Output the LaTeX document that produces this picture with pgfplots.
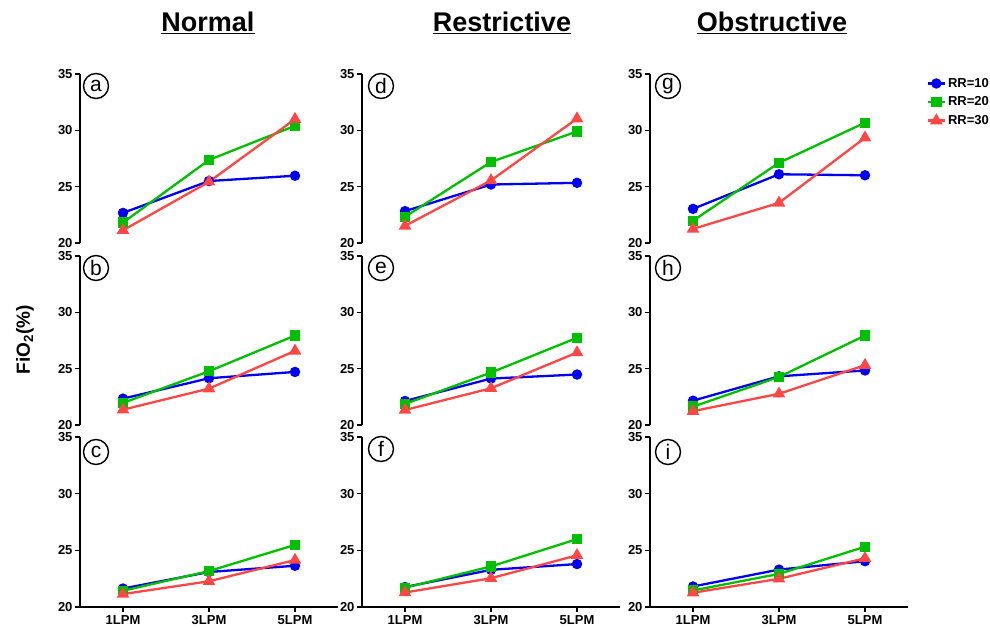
\documentclass[border=0pt]{standalone}
\usepackage{pgfplots}
\pgfplotsset{compat=1.18}
\usepackage{fontspec}
\setmainfont{Liberation Sans}
\definecolor{cb}{RGB}{0,0,240}
\definecolor{cg}{RGB}{0,190,0}
\definecolor{cr}{RGB}{255,70,70}
\tikzset{plab/.style={draw, circle, line width=1.4pt, minimum size=25pt, inner sep=0pt,
    font=\fontsize{21}{21}\selectfont}}
\pgfplotsset{
  panel/.style={scale only axis, width=258pt, height=169pt,
    xmin=-0.5, xmax=2.5, ymin=20, ymax=35, ytick={20,25,30,35},
    axis y line*=left, tick align=outside, major tick length=5pt,
    axis line style={line width=2pt, black},
    tick style={line width=1.5pt, black},
    yticklabel style={font=\fontsize{13}{15}\selectfont\bfseries, xshift=1pt},
    /pgf/number format/assume math mode=true,
    clip=false, anchor=north west},
  toprow/.style={axis x line=none, xtick=\empty},
  bottomrow/.style={axis x line*=bottom, xtick={0,1,2}, xticklabels={1LPM,3LPM,5LPM},
    xticklabel style={font=\fontsize{13}{15}\selectfont\bfseries}},
  s10/.style={color=cb, line width=2.3pt, mark=*, mark size=4pt},
  s20/.style={color=cg, line width=2.3pt, mark=square*, mark size=4pt},
  s30/.style={color=cr, line width=2.3pt, mark=triangle*, mark size=5pt}
}
\begin{document}
\begin{tikzpicture}
\path[use as bounding box] (0pt,0pt) rectangle (990pt,627pt);
% titles
\node[font=\fontsize{27}{30}\selectfont\bfseries] at (208pt,604pt) {\underline{Normal}};
\node[font=\fontsize{27}{30}\selectfont\bfseries] at (502pt,604pt) {\underline{Restrictive}};
\node[font=\fontsize{27}{30}\selectfont\bfseries] at (772pt,604pt) {\underline{Obstructive}};
\node[rotate=90, font=\fontsize{19}{21}\selectfont\bfseries] at (25pt,287pt) {FiO\textsubscript{2}(\%)};

% ---- Row 1
\begin{axis}[panel, toprow, at={(80pt,553pt)}]
\addplot[s10] coordinates {(0,22.67) (1,25.50) (2,25.97)};
\addplot[s20] coordinates {(0,21.81) (1,27.37) (2,30.40)};
\addplot[s30] coordinates {(0,21.13) (1,25.43) (2,30.99)};
\node[plab] at ([xshift=16pt,yshift=-12pt]axis description cs:0,1) {a};
\end{axis}
\begin{axis}[panel, toprow, at={(362pt,553pt)}]
\addplot[s10] coordinates {(0,22.83) (1,25.19) (2,25.34)};
\addplot[s20] coordinates {(0,22.33) (1,27.19) (2,29.90)};
\addplot[s30] coordinates {(0,21.52) (1,25.55) (2,31.04)};
\node[plab] at ([xshift=19pt,yshift=-12pt]axis description cs:0,1) {d};
\end{axis}
\begin{axis}[panel, toprow, at={(650pt,553pt)},
  legend style={at={(axis description cs:1.06,1)}, anchor=north west, draw=none, fill=none,
    font=\fontsize{13}{15}\selectfont\bfseries, row sep=4pt},
  legend cell align=left]
\addplot[s10] coordinates {(0,23.03) (1,26.10) (2,26.01)};
\addplot[s20] coordinates {(0,21.98) (1,27.12) (2,30.68)};
\addplot[s30] coordinates {(0,21.25) (1,23.56) (2,29.34)};
\legend{RR=10,RR=20,RR=30}
\node[plab] at ([xshift=18pt,yshift=-12pt]axis description cs:0,1) {g};
\end{axis}

% ---- Row 2
\begin{axis}[panel, toprow, at={(80pt,371pt)}]
\addplot[s10] coordinates {(0,22.34) (1,24.15) (2,24.71)};
\addplot[s20] coordinates {(0,21.96) (1,24.77) (2,27.94)};
\addplot[s30] coordinates {(0,21.36) (1,23.23) (2,26.58)};
\node[plab] at ([xshift=16pt,yshift=-12pt]axis description cs:0,1) {b};
\end{axis}
\begin{axis}[panel, toprow, at={(362pt,371pt)}]
\addplot[s10] coordinates {(0,22.13) (1,24.12) (2,24.48)};
\addplot[s20] coordinates {(0,21.87) (1,24.65) (2,27.74)};
\addplot[s30] coordinates {(0,21.33) (1,23.26) (2,26.43)};
\node[plab] at ([xshift=19pt,yshift=-12pt]axis description cs:0,1) {e};
\end{axis}
\begin{axis}[panel, toprow, at={(650pt,371pt)}]
\addplot[s10] coordinates {(0,22.16) (1,24.32) (2,24.84)};
\addplot[s20] coordinates {(0,21.63) (1,24.26) (2,27.94)};
\addplot[s30] coordinates {(0,21.23) (1,22.77) (2,25.31)};
\node[plab] at ([xshift=18pt,yshift=-12pt]axis description cs:0,1) {h};
\end{axis}

% ---- Row 3
\begin{axis}[panel, bottomrow, at={(80pt,190pt)}, height=170pt]
\addplot[s10] coordinates {(0,21.63) (1,23.09) (2,23.64)};
\addplot[s20] coordinates {(0,21.43) (1,23.17) (2,25.48)};
\addplot[s30] coordinates {(0,21.14) (1,22.27) (2,24.14)};
\node[plab] at ([xshift=16pt,yshift=-15pt]axis description cs:0,1) {c};
\end{axis}
\begin{axis}[panel, bottomrow, at={(362pt,190pt)}, height=170pt]
\addplot[s10] coordinates {(0,21.76) (1,23.28) (2,23.79)};
\addplot[s20] coordinates {(0,21.70) (1,23.58) (2,25.99)};
\addplot[s30] coordinates {(0,21.28) (1,22.54) (2,24.56)};
\node[plab] at ([xshift=19pt,yshift=-12pt]axis description cs:0,1) {f};
\end{axis}
\begin{axis}[panel, bottomrow, at={(650pt,190pt)}, height=170pt]
\addplot[s10] coordinates {(0,21.81) (1,23.30) (2,24.04)};
\addplot[s20] coordinates {(0,21.46) (1,22.92) (2,25.32)};
\addplot[s30] coordinates {(0,21.26) (1,22.49) (2,24.30)};
\node[plab] at ([xshift=18pt,yshift=-15pt]axis description cs:0,1) {i};
\end{axis}
\end{tikzpicture}
\end{document}
